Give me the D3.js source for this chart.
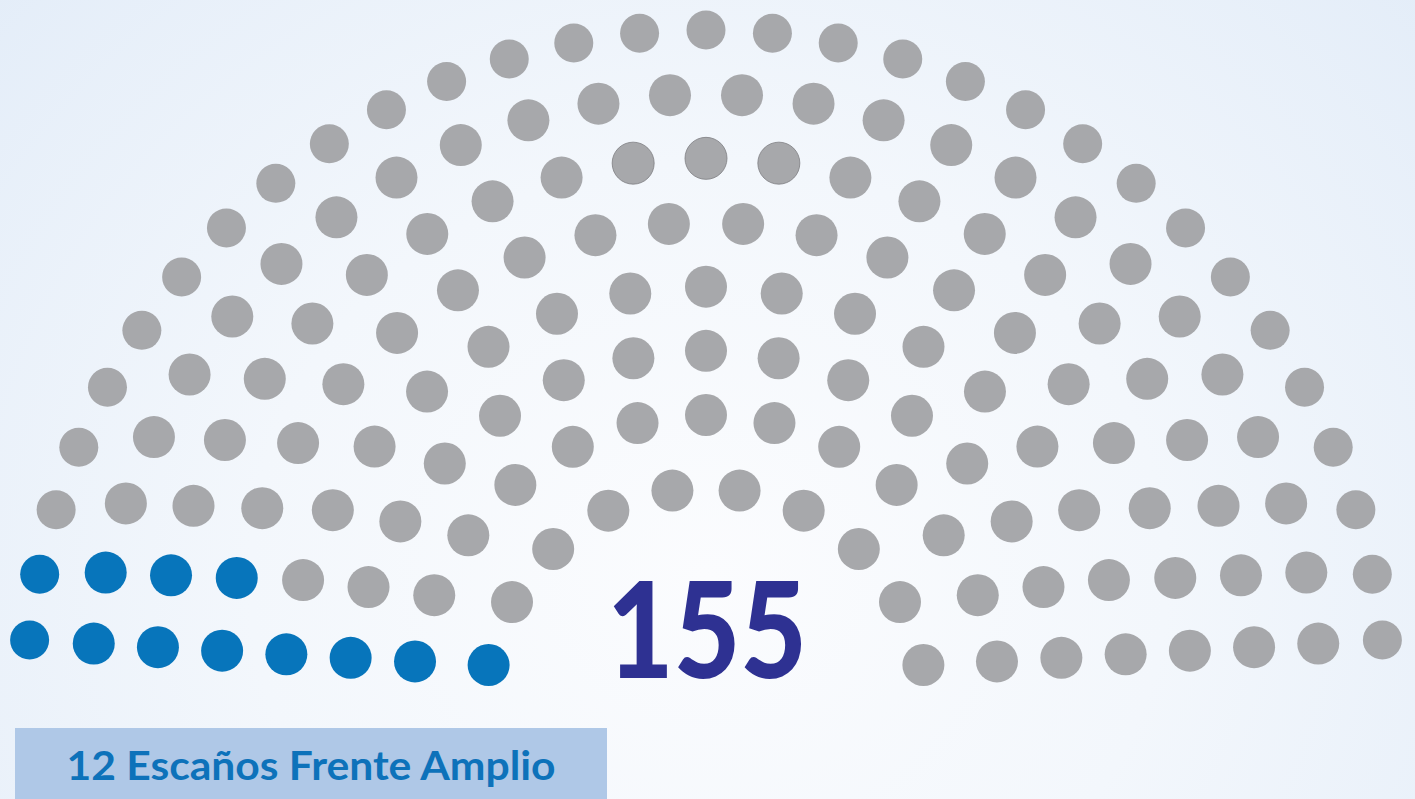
<!DOCTYPE html>
<html>
<head>
<meta charset="utf-8">
<script src="https://cdn.jsdelivr.net/npm/d3@7"></script>
<style>
  html, body { margin: 0; padding: 0; overflow: hidden; }
  svg { display: block; }
</style>
</head>
<body>
<div id="graph"></div>
<script>
// seats per ring, inner ring first
const ringSeats = [10, 13, 15, 17, 20, 23, 26, 31];
const partyNames = ["Frente Amplio", "Resto"];
const partySeats = [12, 143];
const partyColors = ["#0775bb", "#a7a8ab"];
const totalLabel = "155";
const legendLabel = "12 Escaños Frente Amplio";
// [ring, seat] that carry a darker outline in the original
const outlinedSeats = [[5, 10], [5, 11], [5, 12]];

const width = 1415, height = 799;

const svg = d3.select("#graph").append("svg")
  .attr("width", width)
  .attr("height", height);

// background
const defs = svg.append("defs");
const grad = defs.append("radialGradient")
  .attr("id", "bg")
  .attr("cx", "50%").attr("cy", "72%").attr("r", "72%")
  .attr("gradientTransform", "translate(0.5,0.72) scale(1,1.6) translate(-0.5,-0.72)");
grad.append("stop").attr("offset", "0%").attr("stop-color", "#fbfcfe");
grad.append("stop").attr("offset", "45%").attr("stop-color", "#f3f7fc");
grad.append("stop").attr("offset", "100%").attr("stop-color", "#e2ecf8");
svg.append("rect").attr("width", width).attr("height", height).attr("fill", "url(#bg)");

// scales: unit half circle -> pixels
const x = d3.scaleLinear().domain([-1, 1]).range([26, 1386]);
const y = d3.scaleLinear().domain([0, 1]).range([710, 30]);
const last = ringSeats.length - 1;
// inner ring sits a little tighter than the rest
const ringRadius = d3.scaleLinear().domain([0, 1, last]).range([222 / 680, 295 / 680, 1]);
const ringOffset = d3.scaleLinear().domain([0, last]).range([45 / 680, 70 / 680]);

// build seats
let seats = [];
ringSeats.forEach((n, ring) => {
  const rho = ringRadius(ring);
  const a0 = Math.asin(ringOffset(ring) / rho);
  const step = (Math.PI - 2 * a0) / (n - 1);
  for (let j = 0; j < n; j++) {
    const a = Math.PI - a0 - j * step;
    seats.push({ ring: ring, idx: j, angle: a, rho: rho });
  }
});

// fill parties from the left by angle
seats.sort((a, b) => b.angle - a.angle || b.ring - a.ring);
let k = 0;
partySeats.forEach((count, p) => {
  for (let i = 0; i < count; i++) {
    seats[k].party = p;
    k++;
  }
});

const isOutlined = d => outlinedSeats.some(s => s[0] === d.ring && s[1] === d.idx);

svg.append("g").selectAll("circle")
  .data(seats)
  .join("circle")
  .attr("cx", d => x(d.rho * Math.cos(d.angle)))
  .attr("cy", d => y(d.rho * Math.sin(d.angle)))
  .attr("r", d => d.ring === last ? 19.5 : 21)
  .attr("fill", d => partyColors[d.party])
  .attr("stroke", d => isOutlined(d) ? "#7d7e81" : "none")
  .attr("stroke-width", 0.8);

// total
svg.append("text")
  .attr("x", 707)
  .attr("y", 678)
  .attr("text-anchor", "middle")
  .attr("font-family", "Lato, 'Open Sans', sans-serif")
  .attr("font-weight", 900)
  .attr("font-size", 134)
  .attr("textLength", 200)
  .attr("lengthAdjust", "spacingAndGlyphs")
  .attr("fill", "#2e3192")
  .text(totalLabel);

// legend box
svg.append("rect")
  .attr("x", 15).attr("y", 728)
  .attr("width", 592).attr("height", 80)
  .attr("fill", "#afc8e7");
svg.append("text")
  .attr("x", 311)
  .attr("y", 780)
  .attr("text-anchor", "middle")
  .attr("font-family", "Lato, 'Open Sans', sans-serif")
  .attr("font-weight", "bold")
  .attr("font-size", 41)
  .attr("textLength", 489)
  .attr("lengthAdjust", "spacingAndGlyphs")
  .attr("fill", "#0d72ba")
  .text(legendLabel);
</script>
</body>
</html>
